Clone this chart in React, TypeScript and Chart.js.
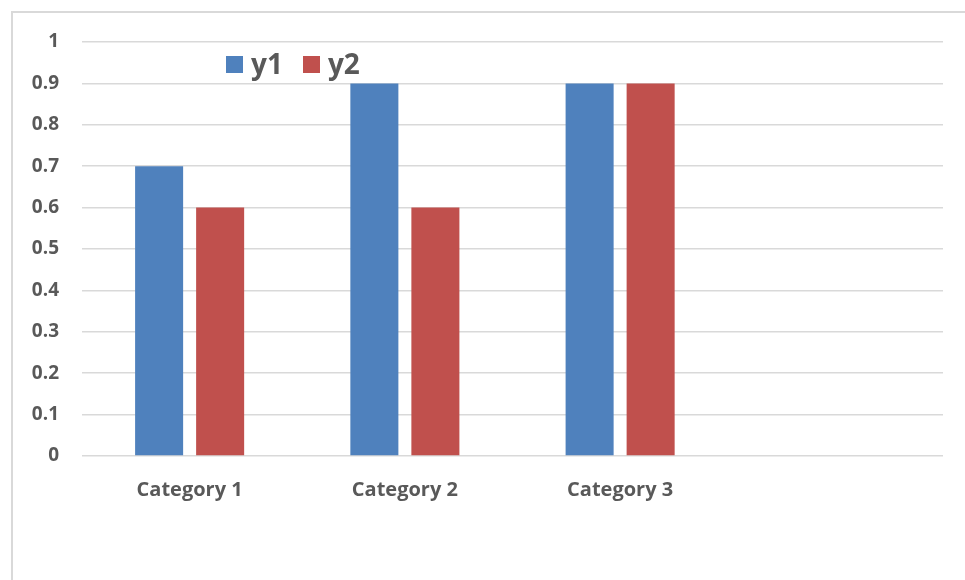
import React, { useEffect, useRef } from "react";
import { Chart, registerables } from "chart.js";

Chart.register(...registerables);

const categories = ["Category 1", "Category 2", "Category 3", ""];
const seriesNames = ["y1", "y2"];
const y1Values = [0.7, 0.9, 0.9, null];
const y2Values = [0.6, 0.6, 0.9, null];
const seriesColors = ["#4F81BD", "#C0504D"];
const FONT = "'Open Sans', sans-serif";
const TEXT = "#595959";

export default function App() {
  const ref = useRef<HTMLCanvasElement | null>(null);
  useEffect(() => {
    if (!ref.current) return;
    const chart = new Chart(ref.current, {
      type: "bar",
      data: {
        labels: categories,
        datasets: [
          { label: seriesNames[0], data: y1Values, backgroundColor: seriesColors[0] },
          { label: seriesNames[1], data: y2Values, backgroundColor: seriesColors[1] },
        ],
      },
      options: {
        animation: false,
        responsive: false,
        maintainAspectRatio: false,
        datasets: { bar: { categoryPercentage: 0.567, barPercentage: 0.787 } },
        layout: { padding: { top: 42, right: 22, bottom: 0, left: 0 } },
        plugins: { legend: { display: false }, tooltip: { enabled: false } },
        scales: {
          x: {
            grid: { display: false },
            border: { display: false },
            ticks: { color: TEXT, font: { family: FONT, size: 20, weight: "bold" }, padding: 14 },
            afterFit: (s: any) => { s.height = 124; },
          },
          y: {
            min: 0,
            max: 1,
            grid: { color: "#D9D9D9", lineWidth: 1.5, drawTicks: false },
            border: { display: false },
            ticks: {
              stepSize: 0.1,
              color: TEXT,
              font: { family: FONT, size: 19, weight: "bold" },
              padding: 23,
              callback: (v: any) => String(Number(Number(v).toFixed(1))),
            },
            afterFit: (s: any) => { s.width = 82; },
          },
        },
      },
    });
    return () => chart.destroy();
  }, []);

  return (
    <div style={{ position: "fixed", left: 0, top: 0, width: 965, height: 580, overflow: "hidden", background: "#fff" }}>
      <div style={{ position: "absolute", left: 11, top: 11, width: 1100, height: 1100, border: "2px solid #D9D9D9" }} />
      <canvas ref={ref} width={965} height={580} style={{ position: "absolute", left: 0, top: 0, width: 965, height: 580 }} />
      <div style={{ position: "absolute", left: 226, top: 44, display: "flex", alignItems: "center", fontFamily: FONT, fontWeight: "bold", fontSize: 28, color: TEXT }}>
        {seriesNames.map((n, i) => (
          <div key={n} style={{ display: "flex", alignItems: "center", marginRight: 20 }}>
            <span style={{ display: "inline-block", width: 17, height: 17, background: seriesColors[i], marginRight: 8, marginTop: 2 }} />
            <span>{n}</span>
          </div>
        ))}
      </div>
    </div>
  );
}
